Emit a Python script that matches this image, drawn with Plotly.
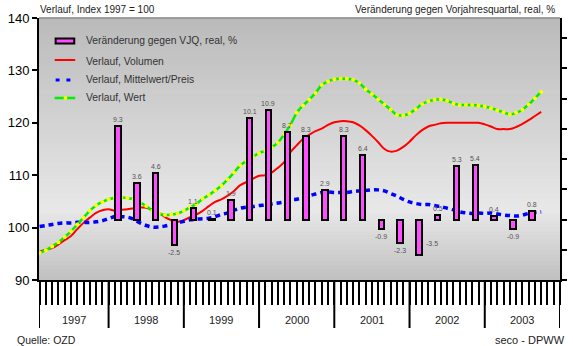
import pandas as pd
import plotly.graph_objects as go

# ---------------------------------------------------------------- data
months = pd.period_range("1997-01", "2003-09", freq="M")
quarters = pd.period_range("1998Q1", "2003Q3", freq="Q")
years = [1997, 1998, 1999, 2000, 2001, 2002, 2003]

volumen = [
    95.4, 95.8, 96.1, 96.8, 97.6, 98.4, 99.7, 100.9, 101.9, 102.8,
    103.3, 103.5, 103.2, 103.4, 103.5, 103.7, 103.8, 103.8, 103.4, 102.8,
    102.0, 101.4, 101.1, 101.4, 102.0, 102.5, 103.2, 104.1, 104.9, 105.4,
    106.1, 107.0, 108.1, 108.7, 109.3, 109.9, 110.0, 110.5, 111.4, 112.5,
    114.4, 115.7, 116.9, 117.7, 118.4, 118.9, 119.6, 120.1, 120.3, 120.3,
    120.1, 119.5, 118.6, 117.5, 116.3, 115.0, 114.5, 114.7, 115.4, 116.4,
    117.6, 118.6, 119.3, 119.6, 119.9, 120.0, 120.0, 120.0, 120.0, 120.0,
    120.0, 119.7, 119.3, 118.8, 118.8, 118.8, 119.2, 119.8, 120.5, 121.3,
    122.1,
]
wert = [
    95.2, 95.7, 96.4, 97.2, 98.2, 99.3, 100.6, 101.9, 103.2, 104.2,
    104.9, 105.4, 105.7, 105.8, 105.6, 105.4, 104.8, 104.1, 103.2, 102.7,
    102.4, 102.5, 102.7, 103.2, 103.9, 104.5, 105.5, 106.2, 107.1, 108.0,
    109.2, 110.5, 111.9, 112.7, 113.5, 114.2, 114.7, 115.3, 116.2, 117.8,
    119.6, 121.9, 123.3, 124.4, 125.7, 127.2, 127.9, 128.3, 128.4, 128.4,
    128.2, 127.6, 126.4, 125.5, 124.5, 123.5, 122.5, 121.5, 121.4, 121.8,
    122.6, 123.6, 124.1, 124.4, 124.5, 124.2, 123.7, 123.4, 123.4, 123.4,
    123.3, 123.1, 122.8, 122.4, 122.0, 121.6, 121.9, 122.5, 123.5, 124.7,
    125.9,
]
preis = [
    100.2, 100.4, 100.6, 100.8, 100.9, 100.9, 101.0, 101.0, 101.0, 101.1,
    101.3, 101.7, 102.1, 102.1, 102.0, 101.6, 100.9, 100.4, 100.1, 100.1,
    100.3, 100.6, 100.9, 101.2, 101.5, 101.6, 101.7, 101.8, 102.1, 102.5,
    102.8, 103.3, 103.7, 103.9, 104.0, 104.2, 104.3, 104.5, 104.7, 104.9,
    105.3, 105.4, 105.7, 106.1, 106.4, 106.7, 106.8, 106.7, 106.7, 106.7,
    106.9, 107.0, 107.1, 107.2, 107.2, 107.0, 106.5, 106.0, 105.4, 104.9,
    104.6, 104.4, 104.4, 104.2, 104.0, 103.7, 103.4, 103.0, 102.8, 102.7,
    102.8, 102.7, 102.8, 102.6, 102.4, 102.3, 102.2, 102.4, 102.7, 102.9,
    103.0,
]
vjq = [9.3, 3.6, 4.6, -2.5, 1.1, 0.1, 1.9, 10.1, 10.9, 8.7, 8.3, 2.9,
       8.3, 6.4, -0.9, -2.3, -3.5, 0.5, 5.3, 5.4, 0.4, -0.9, 0.8]

# ---------------------------------------------------------------- geometry
W, H = 573, 346
ML, MR, MT, MB = 33, 8, 18, 66
PW, PH = W - ML - MR, H - MT - MB
X0, X1 = 1997.075, 2004.0
FONT = "Liberation Sans, Arial, sans-serif"
TXT = "#222222"

x_month = [p.year + p.month / 12 for p in months]
x_quarter = [p.year + (p.quarter - 0.5) / 4 for p in quarters]


def px(xp):
    return (xp - ML) / PW


def py(yp):
    return (MT + PH - yp) / PH


fig = go.Figure()

# quarterly change bars (right axis)
fig.add_trace(go.Bar(
    x=x_quarter, y=vjq, yaxis="y2", width=0.072,
    marker=dict(color="#ff4dff", line=dict(color="black", width=2)),
    showlegend=False, hoverinfo="skip",
))
# monthly index lines (left axis)
fig.add_trace(go.Scatter(
    x=x_month, y=volumen, mode="lines",
    line=dict(color="#ff0000", width=2, shape="spline"), showlegend=False,
))
fig.add_trace(go.Scatter(
    x=x_month, y=preis, mode="lines",
    line=dict(color="#0000ff", width=3.5, dash="5px,4px", shape="spline"),
    showlegend=False,
))
fig.add_trace(go.Scatter(
    x=x_month, y=wert, mode="lines+markers",
    line=dict(color="#00ee00", width=2.5, shape="spline"),
    marker=dict(color="#ffff00", size=4, line=dict(width=0)),
    showlegend=False,
))

shapes = []
# background gradient of the plotting area
stops = [(0.0, 192), (0.27, 232), (1.0, 186)]
N = 70
for k in range(N):
    t0, t1 = k / N, (k + 1) / N
    tm = (t0 + t1) / 2
    for (a, ca), (b, cb) in zip(stops[:-1], stops[1:]):
        if a <= tm <= b:
            c = int(round(ca + (cb - ca) * (tm - a) / (b - a)))
            break
    shapes.append(dict(type="rect", xref="paper", yref="paper", x0=0, x1=1,
                       y0=t0, y1=t1 + 0.002, line=dict(width=0),
                       fillcolor=f"rgb({c},{c},{c})", layer="below"))
# top border
shapes.append(dict(type="line", xref="paper", yref="paper", x0=0, x1=1, y0=1, y1=1,
                   line=dict(color="#8c8c8c", width=1.5)))
# long year separators below the axis
for xv in [X0] + [y + 1 for y in years]:
    shapes.append(dict(type="line", xref="x", yref="paper", x0=xv, x1=xv,
                       y0=0, y1=-48 / PH, line=dict(color="black", width=2)))
# extension of the x axis line past the right axis
shapes.append(dict(type="line", xref="paper", yref="paper", x0=1, x1=px(570),
                   y0=0, y1=0, line=dict(color="black", width=2)))

annotations = []
# bar value labels
for xq, v in zip(x_quarter, vjq):
    lab = f"{v:.1f}"
    lf = dict(size=7, color="#555555", family=FONT)
    if v >= 0:
        annotations.append(dict(x=xq, y=v, xref="x", yref="y2", text=lab,
                                showarrow=False, yanchor="bottom", yshift=1, font=lf))
    elif v < -3:
        annotations.append(dict(x=xq, y=v, xref="x", yref="y2", text=lab,
                                showarrow=False, xanchor="left", xshift=5,
                                yshift=11, font=lf))
    else:
        annotations.append(dict(x=xq, y=v, xref="x", yref="y2", text=lab,
                                showarrow=False, yanchor="top", yshift=-2, font=lf))

# year labels
for yr in years:
    lo = max(yr, X0)
    annotations.append(dict(x=(lo + yr + 1) / 2, y=0, xref="x", yref="paper",
                            text=str(yr), showarrow=False, yanchor="middle",
                            yshift=-40, font=dict(size=11, color=TXT, family=FONT)))

# titles and footers
annotations += [
    dict(x=px(32), y=1, xref="paper", yref="paper", text="Verlauf, Index 1997 = 100",
         showarrow=False, xanchor="left", yanchor="bottom", yshift=1,
         font=dict(size=10, color=TXT, family=FONT)),
    dict(x=px(562), y=1, xref="paper", yref="paper",
         text="Veränderung gegen Vorjahresquartal, real, %",
         showarrow=False, xanchor="right", yanchor="bottom", yshift=1,
         font=dict(size=10, color=TXT, family=FONT)),
    dict(x=px(9), y=py(340), xref="paper", yref="paper", text="Quelle: OZD",
         showarrow=False, xanchor="left", yanchor="middle",
         font=dict(size=10.5, color=TXT, family=FONT)),
    dict(x=px(497), y=py(340), xref="paper", yref="paper", text="seco - DPWW",
         showarrow=False, xanchor="left", yanchor="middle",
         font=dict(size=11, color=TXT, family=FONT)),
]

# legend drawn inside the plot
legend_rows = [
    (41, "Veränderung gegen VJQ, real, %"),
    (61, "Verlauf, Volumen"),
    (80, "Verlauf, Mittelwert/Preis"),
    (98, "Verlauf, Wert"),
]
for yrow, txt in legend_rows:
    annotations.append(dict(x=px(79), y=py(yrow), xref="paper", yref="paper",
                            text=txt, showarrow=False, xanchor="left", yanchor="middle",
                            font=dict(size=10.3, color="#333333", family=FONT)))
shapes += [
    dict(type="rect", xref="paper", yref="paper", x0=px(50), x1=px(69),
         y0=py(43.5), y1=py(38.5), fillcolor="#ff4dff",
         line=dict(color="black", width=2)),
    dict(type="line", xref="paper", yref="paper", x0=px(49), x1=px(70),
         y0=py(60), y1=py(60), line=dict(color="#ff0000", width=2)),
    dict(type="rect", xref="paper", yref="paper", x0=px(50), x1=px(54),
         y0=py(81.5), y1=py(78.5), fillcolor="#0000ff", line=dict(width=0)),
    dict(type="rect", xref="paper", yref="paper", x0=px(61), x1=px(65),
         y0=py(81.5), y1=py(78.5), fillcolor="#0000ff", line=dict(width=0)),
    dict(type="line", xref="paper", yref="paper", x0=px(49), x1=px(70),
         y0=py(98), y1=py(98), line=dict(color="#00ee00", width=2.5)),
    dict(type="circle", xref="paper", yref="paper", x0=px(58), x1=px(62),
         y0=py(100), y1=py(96), fillcolor="#ffff00", line=dict(width=0)),
]

fig.update_layout(
    width=W, height=H,
    margin=dict(l=ML, r=MR, t=MT, b=MB),
    paper_bgcolor="white", plot_bgcolor="#d8d8d8",
    font=dict(family=FONT, color="black"),
    showlegend=False, bargap=0,
    xaxis=dict(range=[X0, X1], showgrid=False, zeroline=False,
               showline=True, linecolor="black", linewidth=2,
               tickvals=[1997 + k / 12 for k in range(1, 85)],
               ticks="outside", ticklen=23, tickwidth=1.5, tickcolor="black",
               showticklabels=False),
    yaxis=dict(range=[90, 140], dtick=10, showgrid=False, zeroline=False,
               showline=True, linecolor="black", linewidth=2,
               ticks="outside", ticklen=5, tickwidth=2, tickcolor="black",
               tickfont=dict(size=13, color="black", family=FONT)),
    yaxis2=dict(range=[-6, 20], overlaying="y", side="right",
                tickvals=list(range(-6, 21, 3)), showgrid=False, zeroline=False,
                showline=True, linecolor="black", linewidth=2,
                ticks="outside", ticklen=5, tickwidth=2, tickcolor="black",
                showticklabels=False),
    shapes=shapes, annotations=annotations,
)

fig.write_html("out.html")
